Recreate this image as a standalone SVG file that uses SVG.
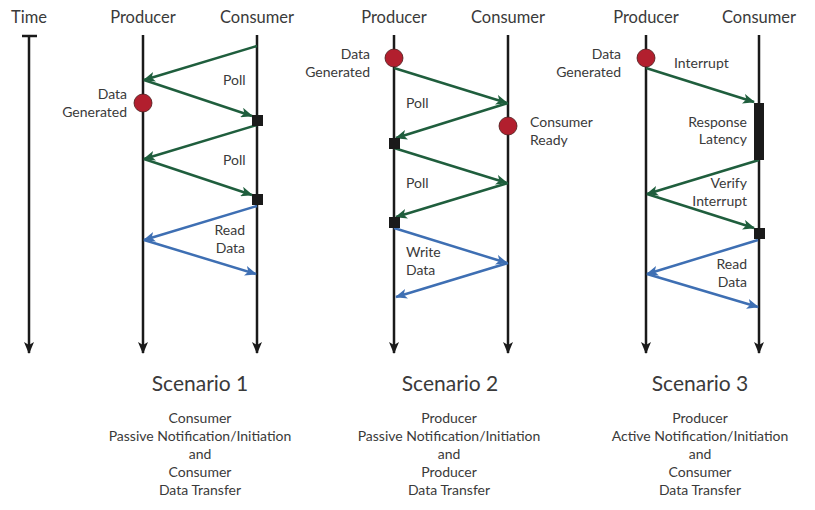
<svg xmlns="http://www.w3.org/2000/svg" width="815" height="510" viewBox="0 0 815 510">
<style>
text{font-family:Lato,"Liberation Sans",sans-serif;fill:#3a3a3a}
.hd{font-size:16.5px;text-anchor:middle}
.lb{font-size:14px}
.r{text-anchor:end}
.ttl{font-size:21px;text-anchor:middle}
.sub{font-size:14px;text-anchor:middle}
.life{stroke:#1a1a1a;stroke-width:2.5;fill:none;marker-end:url(#ak)}
.g{stroke:#1f5e3d;stroke-width:2.5;fill:none;marker-end:url(#ag)}
.b{stroke:#3e6fb3;stroke-width:2.5;fill:none;marker-end:url(#ab)}
.dot{fill:#b21f2e;stroke:#4a1a1a;stroke-width:0.8}
.sq{fill:#1a1a1a}
</style>
<defs>
<marker id="ak" viewBox="0 0 12 10" refX="11" refY="5" markerWidth="12" markerHeight="10" orient="auto" markerUnits="userSpaceOnUse"><path d="M0,0 L12,5 L0,10 L3,5 z" fill="#1a1a1a"/></marker>
<marker id="ag" viewBox="0 0 12 10" refX="11" refY="5" markerWidth="12" markerHeight="10" orient="auto" markerUnits="userSpaceOnUse"><path d="M0,0 L12,5 L0,10 L3,5 z" fill="#1f5e3d"/></marker>
<marker id="ab" viewBox="0 0 12 10" refX="11" refY="5" markerWidth="12" markerHeight="10" orient="auto" markerUnits="userSpaceOnUse"><path d="M0,0 L12,5 L0,10 L3,5 z" fill="#3e6fb3"/></marker>
</defs>

<g id="time">
<text class="hd" x="29" y="23">Time</text>
<line x1="22" y1="36" x2="37" y2="36" stroke="#1a1a1a" stroke-width="2.5"/>
<line class="life" x1="29" y1="36" x2="29" y2="353"/>
</g>

<g id="s1-producer">
<text class="hd" x="143" y="23">Producer</text>
<line class="life" x1="143" y1="35" x2="143" y2="353"/>
</g>
<g id="s1-consumer">
<text class="hd" x="257" y="23">Consumer</text>
<line class="life" x1="257" y1="35" x2="257" y2="353"/>
</g>
<g id="s2-producer">
<text class="hd" x="394" y="23">Producer</text>
<line class="life" x1="394" y1="35" x2="394" y2="353"/>
</g>
<g id="s2-consumer">
<text class="hd" x="508" y="23">Consumer</text>
<line class="life" x1="508" y1="35" x2="508" y2="353"/>
</g>
<g id="s3-producer">
<text class="hd" x="646" y="23">Producer</text>
<line class="life" x1="646" y1="35" x2="646" y2="353"/>
</g>
<g id="s3-consumer">
<text class="hd" x="759" y="23">Consumer</text>
<line class="life" x1="759" y1="35" x2="759" y2="353"/>
</g>

<g id="connectors">
<!-- Scenario 1 -->
<line class="g" x1="257" y1="46" x2="144" y2="80"/>
<line class="g" x1="144" y1="80" x2="252" y2="116"/>
<line class="g" x1="257" y1="125" x2="144" y2="159"/>
<line class="g" x1="144" y1="159" x2="252" y2="195"/>
<line class="b" x1="257" y1="206" x2="144" y2="240"/>
<line class="b" x1="144" y1="240" x2="256" y2="274"/>
<!-- Scenario 2 -->
<line class="g" x1="394" y1="68" x2="507" y2="103"/>
<line class="g" x1="508" y1="103" x2="396" y2="138"/>
<line class="g" x1="394" y1="148" x2="507" y2="183"/>
<line class="g" x1="508" y1="183" x2="396" y2="217"/>
<line class="b" x1="394" y1="228" x2="507" y2="263"/>
<line class="b" x1="508" y1="263" x2="396" y2="297"/>
<!-- Scenario 3 -->
<line class="g" x1="646" y1="68" x2="754" y2="102"/>
<line class="g" x1="759" y1="160" x2="647" y2="194"/>
<line class="g" x1="647" y1="194" x2="754" y2="228"/>
<line class="b" x1="758" y1="240" x2="647" y2="274"/>
<line class="b" x1="647" y1="274" x2="758" y2="307"/>
</g>

<g id="s1-events">
<circle class="dot" cx="143" cy="103" r="9"/>
<text class="lb r" x="127" y="99">Data</text>
<text class="lb r" x="127" y="117">Generated</text>
<rect class="sq" x="252" y="115" width="11" height="11"/>
<rect class="sq" x="252" y="194" width="11" height="11"/>
<text class="lb" x="223" y="85">Poll</text>
<text class="lb" x="223" y="165">Poll</text>
<text class="lb r" x="245" y="235">Read</text>
<text class="lb r" x="245" y="253">Data</text>
</g>

<g id="s2-events">
<circle class="dot" cx="394" cy="58" r="9"/>
<text class="lb r" x="370" y="59">Data</text>
<text class="lb r" x="370" y="77">Generated</text>
<circle class="dot" cx="508" cy="126" r="9"/>
<text class="lb" x="530" y="127">Consumer</text>
<text class="lb" x="530" y="145">Ready</text>
<rect class="sq" x="389" y="138" width="11" height="11"/>
<rect class="sq" x="389" y="217" width="11" height="11"/>
<text class="lb" x="406" y="108">Poll</text>
<text class="lb" x="406" y="188">Poll</text>
<text class="lb" x="406" y="257">Write</text>
<text class="lb" x="406" y="275">Data</text>
</g>

<g id="s3-events">
<circle class="dot" cx="646" cy="58" r="9"/>
<text class="lb r" x="621" y="59">Data</text>
<text class="lb r" x="621" y="77">Generated</text>
<text class="lb" x="674" y="68">Interrupt</text>
<rect class="sq" x="754" y="103" width="10" height="57"/>
<text class="lb r" x="747" y="127">Response</text>
<text class="lb r" x="747" y="144">Latency</text>
<text class="lb r" x="747" y="188">Verify</text>
<text class="lb r" x="747" y="206">Interrupt</text>
<rect class="sq" x="754" y="228" width="11" height="11"/>
<text class="lb r" x="747" y="269">Read</text>
<text class="lb r" x="747" y="287">Data</text>
</g>

<g id="caption1">
<text class="ttl" x="200" y="391">Scenario 1</text>
<text class="sub" x="200" y="423">Consumer</text>
<text class="sub" x="200" y="441">Passive Notification/Initiation</text>
<text class="sub" x="200" y="459">and</text>
<text class="sub" x="200" y="477">Consumer</text>
<text class="sub" x="200" y="495">Data Transfer</text>
</g>
<g id="caption2">
<text class="ttl" x="450" y="391">Scenario 2</text>
<text class="sub" x="449" y="423">Producer</text>
<text class="sub" x="449" y="441">Passive Notification/Initiation</text>
<text class="sub" x="449" y="459">and</text>
<text class="sub" x="449" y="477">Producer</text>
<text class="sub" x="449" y="495">Data Transfer</text>
</g>
<g id="caption3">
<text class="ttl" x="700" y="391">Scenario 3</text>
<text class="sub" x="700" y="423">Producer</text>
<text class="sub" x="700" y="441">Active Notification/Initiation</text>
<text class="sub" x="700" y="459">and</text>
<text class="sub" x="700" y="477">Consumer</text>
<text class="sub" x="700" y="495">Data Transfer</text>
</g>
</svg>
